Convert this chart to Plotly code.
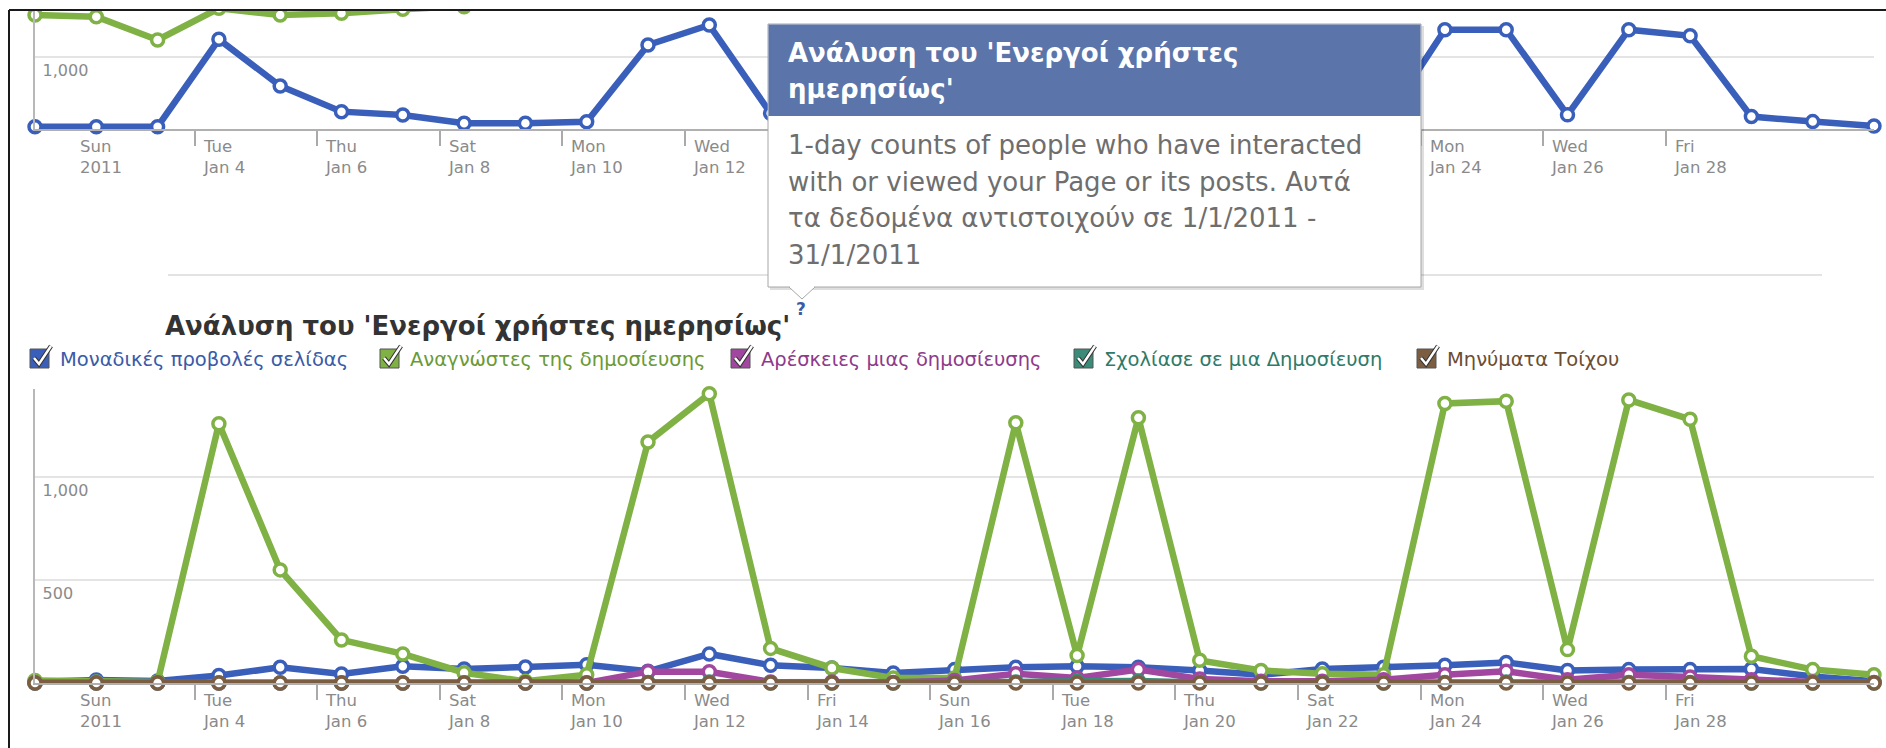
import plotly.graph_objects as go

W, H = 1886, 748

# ---------------- data ----------------
dates = ["2011-01-01 09:30", "2011-01-02 09:30", "2011-01-03 09:30", "2011-01-04 09:30",
         "2011-01-05 09:30", "2011-01-06 09:30", "2011-01-07 09:30", "2011-01-08 09:30",
         "2011-01-09 09:30", "2011-01-10 09:30", "2011-01-11 09:30", "2011-01-12 09:30",
         "2011-01-13 09:30", "2011-01-14 09:30", "2011-01-15 09:30", "2011-01-16 09:30",
         "2011-01-17 09:30", "2011-01-18 09:30", "2011-01-19 09:30", "2011-01-20 09:30",
         "2011-01-21 09:30", "2011-01-22 09:30", "2011-01-23 09:30", "2011-01-24 09:30",
         "2011-01-25 09:30", "2011-01-26 09:30", "2011-01-27 09:30", "2011-01-28 09:30",
         "2011-01-29 09:30", "2011-01-30 09:30", "2011-01-31 09:30"]

tick_dates = ["2011-01-02", "2011-01-04", "2011-01-06", "2011-01-08", "2011-01-10",
              "2011-01-12", "2011-01-14", "2011-01-16", "2011-01-18", "2011-01-20",
              "2011-01-22", "2011-01-24", "2011-01-26", "2011-01-28"]
tick_days = ["Sun", "Tue", "Thu", "Sat", "Mon", "Wed", "Fri",
             "Sun", "Tue", "Thu", "Sat", "Mon", "Wed", "Fri"]
tick_dates_txt = ["2011", "Jan 4", "Jan 6", "Jan 8", "Jan 10", "Jan 12", "Jan 14",
                  "Jan 16", "Jan 18", "Jan 20", "Jan 22", "Jan 24", "Jan 26", "Jan 28"]
# top chart labels that the info pop-up covers are not shown
top_tick_visible = [True, True, True, True, True, True, False,
                    False, False, False, False, True, True, True]

# top chart (partially visible)
top_daily = [32, 32, 32, 1251, 600, 242, 195, 79, 79, 102, 1172, 1450, 219, 140, 70,
             85, 1300, 200, 1330, 165, 95, 90, 85, 1385, 1385, 197, 1385, 1300, 173, 103, 42]
top_weekly = [1590, 1566, 1241, 1683, 1590, 1613, 1669, 1706, 1760, 1810, 1900, 2000, 2080,
              2120, 2150, 2170, 2250, 2300, 2380, 2400, 2410, 2420, 2420, 2480, 2520, 2530,
              2570, 2590, 2600, 2600, 2590]

# bottom chart
series_names = ["Μοναδικές προβολές σελίδας", "Αναγνώστες της δημοσίευσης",
                "Αρέσκειες μιας δημοσίευσης", "Σχολίασε σε μια Δημοσίευση", "Μηνύματα Τοίχου"]
page_views = [5, 15, 10, 36, 76, 44, 81, 68, 78, 89, 57, 141, 86, 73, 49, 65, 76, 81, 76, 61,
              40, 68, 76, 86, 100, 61, 65, 65, 68, 32, 8]
post_readers = [12, 5, 5, 1258, 549, 209, 141, 50, 8, 40, 1170, 1404, 168, 73, 24, 24, 1263,
                133, 1287, 110, 61, 45, 40, 1357, 1368, 162, 1374, 1280, 130, 65, 40]
post_likes = [0, 0, 0, 0, 0, 0, 0, 0, 0, 0, 55, 55, 5, 5, 3, 12, 45, 24, 65, 20, 8, 8, 16,
              40, 57, 16, 40, 29, 16, 5, 3]
post_comments = [0, 0, 0, 0, 0, 0, 0, 0, 0, 0, 3, 5, 0, 0, 0, 0, 5, 8, 10, 3, 0, 0, 0, 3, 5,
                 0, 3, 3, 0, 0, 0]
wall_posts = [0, 0, 0, 0, 0, 0, 0, 0, 0, 0, 0, 0, 0, 0, 0, 0, 0, 0, 0, 0, 0, 0, 0, 0, 0, 0,
              0, 0, 0, 0, 0]

series_values = [page_views, post_readers, post_likes, post_comments, wall_posts]
series_colors = ["#3a5fba", "#7fb144", "#a2479f", "#3c8a78", "#7b5d42"]
legend_text_colors = ["#3b5aa8", "#6a9a35", "#8e3a8b", "#2f7a68", "#6b4d33"]

title_text = "Ανάλυση του 'Ενεργοί χρήστες ημερησίως'"
tip_header = ["Ανάλυση του 'Ενεργοί χρήστες", "ημερησίως'"]
tip_body = ["1-day counts of people who have interacted",
            "with or viewed your Page or its posts. Αυτά",
            "τα δεδομένα αντιστοιχούν σε 1/1/2011 -",
            "31/1/2011"]


def X(p):
    return p / W


def Y(p):
    return 1 - p / H


fig = go.Figure()

LW = 6.5
MS = 12


def add_line(x, y, color, xa, ya, name):
    fig.add_trace(go.Scatter(
        x=x, y=y, mode="lines+markers", name=name, showlegend=False,
        xaxis=xa, yaxis=ya, cliponaxis=False,
        line=dict(color=color, width=LW),
        marker=dict(size=MS, color="white", line=dict(color=color, width=3.5)),
    ))


add_line(dates, top_weekly, series_colors[1], "x", "y", "weekly")
add_line(dates, top_daily, series_colors[0], "x", "y", "daily")
for name, vals, col in zip(series_names, series_values, series_colors):
    add_line(dates, vals, col, "x2", "y2", name)

xcommon = dict(
    type="date", range=[dates[0], dates[-1]], domain=[X(35), X(1874)],
    tickvals=tick_dates, ticks="outside", ticklen=15, showticklabels=False,
    tickcolor="#aaaaaa", tickwidth=1.5, showline=True, linecolor="#b0b0b0", linewidth=2,
    showgrid=False, zeroline=False, fixedrange=True,
)
ycommon = dict(
    showgrid=True, gridcolor="#e4e4e4",
    gridwidth=2, showline=True, linecolor="#b8b8b8", linewidth=1.5, zeroline=False,
    ticks="", ticklabelposition="inside", ticklabelshift=13, ticklabelstandoff=8,
    tickfont=dict(family="DejaVu Sans, sans-serif", size=16, color="#8a8a8a"),
    fixedrange=True,
)

fig.update_layout(
    width=W, height=H, autosize=False,
    margin=dict(l=0, r=0, t=0, b=0),
    paper_bgcolor="white", plot_bgcolor="white",
    showlegend=False,
    xaxis=dict(anchor="y", **xcommon),
    yaxis=dict(anchor="x", domain=[Y(129), 1], range=[0, 1799],
               tickvals=[1000], ticktext=["1,000"], **ycommon),
    xaxis2=dict(anchor="y2", **xcommon),
    yaxis2=dict(anchor="x2", domain=[Y(683), Y(389)], range=[0, 1427],
                tickvals=[500, 1000], ticktext=["500", "1,000"], **ycommon),
)

shapes = []
annotations = []

# x tick labels (left-aligned, to the right of each tick mark)
tickfont = dict(family="DejaVu Sans, sans-serif", size=16.5, color="#8a8a8a")
for xa, base, vis_list in (("x", 129, top_tick_visible), ("x2", 683, [True] * len(tick_dates))):
    for td, d1, d2, vis in zip(tick_dates, tick_days, tick_dates_txt, vis_list):
        if not vis:
            continue
        annotations.append(dict(xref=xa, yref="paper", x=td, y=Y(base + 6), xanchor="left",
                                yanchor="top", xshift=6, showarrow=False, align="left",
                                text=f"{d1}<br>{d2}", font=tickfont))

# white band above frame + frame lines
shapes.append(dict(type="rect", xref="paper", yref="paper", x0=0, x1=1, y0=Y(10), y1=1,
                   fillcolor="white", line=dict(width=0), layer="above"))
shapes.append(dict(type="rect", xref="paper", yref="paper", x0=0, x1=X(9), y0=0, y1=1,
                   fillcolor="white", line=dict(width=0), layer="above"))
shapes.append(dict(type="line", xref="paper", yref="paper", x0=X(9), x1=1, y0=Y(10), y1=Y(10),
                   line=dict(color="#1a1a1a", width=2), layer="above"))
shapes.append(dict(type="line", xref="paper", yref="paper", x0=X(9), x1=X(9), y0=0, y1=Y(10),
                   line=dict(color="#1a1a1a", width=2), layer="above"))
# separator
shapes.append(dict(type="line", xref="paper", yref="paper", x0=X(168), x1=X(1822),
                   y0=Y(275), y1=Y(275), line=dict(color="#dadada", width=1.5), layer="above"))
# tooltip
shapes.append(dict(type="rect", xref="paper", yref="paper", x0=X(770), x1=X(1424),
                   y0=Y(290), y1=Y(26), fillcolor="rgba(0,0,0,0.13)", line=dict(width=0),
                   layer="above"))
shapes.append(dict(type="path", xref="paper", yref="paper",
                   path=f"M {X(789)},{Y(287)} L {X(802)},{Y(299)} L {X(815)},{Y(287)} Z",
                   fillcolor="white", line=dict(color="#a6a6a6", width=1), layer="above"))
shapes.append(dict(type="rect", xref="paper", yref="paper", x0=X(768), x1=X(1421),
                   y0=Y(287), y1=Y(24), fillcolor="white", line=dict(color="#a6a6a6", width=1),
                   layer="above"))
shapes.append(dict(type="line", xref="paper", yref="paper", x0=X(790), x1=X(814),
                   y0=Y(287), y1=Y(287), line=dict(color="white", width=2), layer="above"))
shapes.append(dict(type="rect", xref="paper", yref="paper", x0=X(768.5), x1=X(1420.5),
                   y0=Y(116), y1=Y(24.5), fillcolor="#5b74a9", line=dict(width=0),
                   layer="above"))

font_bold = "DejaVu Sans, sans-serif"
for i, line in enumerate(tip_header):
    annotations.append(dict(xref="paper", yref="paper", x=X(786), y=Y(53 + 36 * i),
                            xanchor="left", yanchor="middle", showarrow=False, text=f"<b>{line}</b>",
                            font=dict(family=font_bold, size=26, color="white")))
for i, line in enumerate(tip_body):
    annotations.append(dict(xref="paper", yref="paper", x=X(786), y=Y(145 + 36.7 * i),
                            xanchor="left", yanchor="middle", showarrow=False, text=line,
                            font=dict(family="DejaVu Sans, sans-serif", size=26, color="#6e6e6e")))
# title
annotations.append(dict(xref="paper", yref="paper", x=X(163), y=Y(326), xanchor="left",
                        yanchor="middle", showarrow=False, text=f"<b>{title_text}</b>",
                        font=dict(family=font_bold, size=26, color="#333333")))
annotations.append(dict(xref="paper", yref="paper", x=X(794), y=Y(309), xanchor="left",
                        yanchor="middle", showarrow=False, text="<b>?</b>",
                        font=dict(family="DejaVu Sans, sans-serif", size=17, color="#3b5aa8")))

# legend (checkbox style)
legend_x = [30, 380, 731, 1074, 1417]
for lx, name, col, tcol in zip(legend_x, series_names, series_colors, legend_text_colors):
    shapes.append(dict(type="rect", xref="paper", yref="paper", x0=X(lx), x1=X(lx + 19),
                       y0=Y(368), y1=Y(349), fillcolor=col,
                       line=dict(color="#555555", width=1), layer="above"))
    chk = f"M {X(lx + 4)},{Y(358)} L {X(lx + 9)},{Y(364)} L {X(lx + 21)},{Y(346)}"
    shapes.append(dict(type="path", xref="paper", yref="paper", path=chk,
                       line=dict(color="#333333", width=4.5), layer="above"))
    shapes.append(dict(type="path", xref="paper", yref="paper", path=chk,
                       line=dict(color="white", width=2.5), layer="above"))
    annotations.append(dict(xref="paper", yref="paper", x=X(lx + 28), y=Y(359), xanchor="left",
                            yanchor="middle", showarrow=False, text=name,
                            font=dict(family="DejaVu Sans, sans-serif", size=19.5, color=tcol)))

fig.update_layout(shapes=shapes, annotations=annotations)

fig.write_html("out.html", config={"displayModeBar": False},
               post_script="document.body.style.margin='0';document.body.style.overflow='hidden';")
